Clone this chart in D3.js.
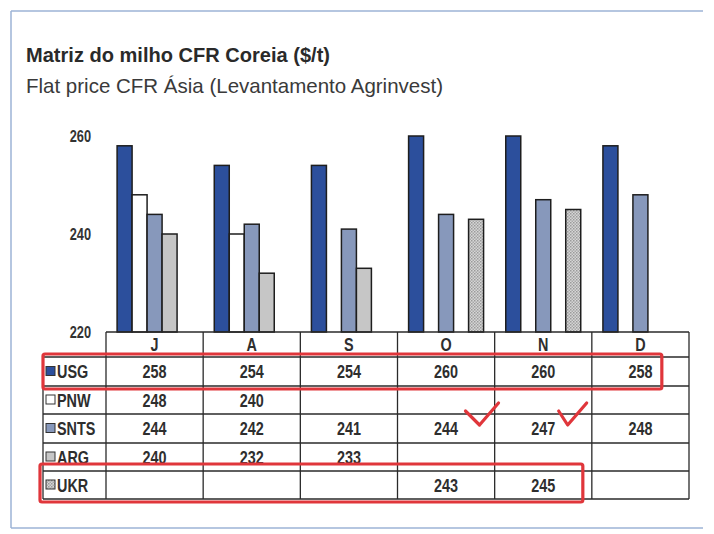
<!DOCTYPE html>
<html>
<head>
<meta charset="utf-8">
<script src="https://d3js.org/d3.v7.min.js"></script>
<style>
  body { margin: 0; background: #fff; }
  svg text { font-family: "Liberation Sans Narrow", "Arial Narrow", "Liberation Sans", Arial, sans-serif; }
  .yaxis .domain { display: none; }
  .yaxis text { font-size: 16px; font-weight: bold; fill: #333; }
</style>
</head>
<body>
<svg id="chart" width="714" height="534"></svg>
<script>
// data
const months = ["J", "A", "S", "O", "N", "D"];
const series = ["USG", "PNW", "SNTS", "ARG", "UKR"];
const usg  = [258, 254, 254, 260, 260, 258];
const pnw  = [248, 240, null, null, null, null];
const snts = [244, 242, 241, 244, 247, 248];
const arg  = [240, 232, 233, null, null, null];
const ukr  = [null, null, null, 243, 245, null];
const yTicks = [220, 240, 260];

const values = { USG: usg, PNW: pnw, SNTS: snts, ARG: arg, UKR: ukr };

const svg = d3.select("#chart");

// pattern for UKR
const defs = svg.append("defs");
const pat = defs.append("pattern").attr("id", "dots")
    .attr("width", 3).attr("height", 3).attr("patternUnits", "userSpaceOnUse");
pat.append("rect").attr("width", 3).attr("height", 3).attr("fill", "#d6d6d6");
pat.append("rect").attr("width", 1.5).attr("height", 1.5).attr("fill", "#9a9a9a");
pat.append("rect").attr("x", 1.5).attr("y", 1.5).attr("width", 1.5).attr("height", 1.5).attr("fill", "#a8a8a8");

const fills = { USG: "#2c4f9c", PNW: "#ffffff", SNTS: "#8798bb", ARG: "#c6c6c6", UKR: "url(#dots)" };

// narrow text: no condensed font installed, so squeeze horizontally
const narrow = 0.8;
function label(g, xx, yy, str, anchor) {
    return g.append("text")
        .attr("transform", `translate(${xx},${yy}) scale(${narrow},1)`)
        .attr("text-anchor", anchor || "start")
        .text(str);
}

// outer frame
const frame = svg.append("g").attr("stroke", "#9db3d6").attr("stroke-width", 1.5);
frame.append("line").attr("x1", 11).attr("y1", 11).attr("x2", 703).attr("y2", 11);
frame.append("line").attr("x1", 11).attr("y1", 11).attr("x2", 11).attr("y2", 528);
frame.append("line").attr("x1", 11).attr("y1", 528).attr("x2", 703).attr("y2", 528);

// titles
svg.append("text").attr("x", 26).attr("y", 62)
    .attr("font-size", 21).attr("font-weight", "bold").attr("fill", "#2a2a2a")
    .attr("textLength", 304).attr("lengthAdjust", "spacingAndGlyphs")
    .text("Matriz do milho CFR Coreia ($/t)");
svg.append("text").attr("x", 26).attr("y", 93)
    .attr("font-size", 21).attr("fill", "#3a3a3a")
    .attr("textLength", 417).attr("lengthAdjust", "spacingAndGlyphs")
    .text("Flat price CFR Ásia (Levantamento Agrinvest)");

// scales
const plotLeft = 106, plotRight = 689, plotTop = 136, plotBottom = 332;
const x = d3.scaleBand().domain(months).range([plotLeft, plotRight]);
const xs = d3.scaleBand().domain(series).range([0, x.bandwidth()]).paddingOuter(0.74);
const y = d3.scaleLinear().domain([220, 260]).range([plotBottom, plotTop]);

// y axis
svg.append("g").attr("class", "yaxis")
    .attr("transform", `translate(${plotLeft - 15},0)`)
    .call(d3.axisLeft(y).tickValues(yTicks).tickSize(0).tickPadding(0))
    .selectAll("text").attr("transform", `scale(${narrow},1)`);

// bars
const bars = [];
series.forEach(s => months.forEach((m, i) => {
    if (values[s][i] != null) bars.push({ s, m, v: values[s][i] });
}));
svg.append("g").selectAll("rect").data(bars).join("rect")
    .attr("x", d => x(d.m) + xs(d.s))
    .attr("width", xs.bandwidth())
    .attr("y", d => y(d.v))
    .attr("height", d => plotBottom - y(d.v))
    .attr("fill", d => fills[d.s])
    .attr("stroke", "#1e1e1e").attr("stroke-width", 1.5);

// table
const rowEdges = [332, 357, 386, 414, 443, 471, 499];
const legendLeft = 43;
const table = svg.append("g");
const grid = table.append("g").attr("stroke", "#2a2a2a").attr("stroke-width", 1.3);
grid.append("line").attr("x1", plotLeft).attr("x2", plotRight).attr("y1", rowEdges[0]).attr("y2", rowEdges[0]);
rowEdges.slice(1).forEach(r => grid.append("line")
    .attr("x1", legendLeft).attr("x2", plotRight).attr("y1", r).attr("y2", r));
grid.append("line").attr("x1", legendLeft).attr("x2", legendLeft).attr("y1", rowEdges[1]).attr("y2", rowEdges[6]);
months.concat(["end"]).forEach((m, i) => {
    const xx = plotLeft + i * x.bandwidth();
    grid.append("line").attr("x1", xx).attr("x2", xx).attr("y1", rowEdges[0]).attr("y2", rowEdges[6]);
});

const txt = table.append("g").attr("font-size", 18).attr("font-weight", "bold").attr("fill", "#2e2e2e");
months.forEach(m => label(txt, x(m) + x.bandwidth() / 2, (rowEdges[0] + rowEdges[1]) / 2 + 6, m, "middle"));

series.forEach((s, j) => {
    const cy = (rowEdges[j + 1] + rowEdges[j + 2]) / 2;
    table.append("rect").attr("x", 46).attr("y", cy - 5).attr("width", 9).attr("height", 9)
        .attr("fill", fills[s]).attr("stroke", "#333").attr("stroke-width", 1);
    label(txt, 57, cy + 6.5, s);
    months.forEach((m, i) => {
        const v = values[s][i];
        if (v == null) return;
        label(txt, x(m) + x.bandwidth() / 2, cy + 6.5, v, "middle");
    });
});

// red annotations
const red = svg.append("g").attr("fill", "none").attr("stroke", "#e0363b")
    .attr("stroke-width", 3.2).attr("stroke-linejoin", "round").attr("stroke-linecap", "round");
red.append("rect").attr("x", legendLeft).attr("y", rowEdges[1] - 3)
    .attr("width", x("D") + 70 - legendLeft).attr("height", rowEdges[2] - rowEdges[1] + 6).attr("rx", 2);
red.append("rect").attr("x", legendLeft - 3).attr("y", rowEdges[5] - 7)
    .attr("width", x("N") + x.bandwidth() - 9 - (legendLeft - 3)).attr("height", rowEdges[6] - rowEdges[5] + 10).attr("rx", 2);
const snY = rowEdges[3];
[["O", 68, 82, 101], ["N", 64, 73, 92]].forEach(([m, a, b, c]) => {
    red.append("path").attr("d", d3.line()([
        [x(m) + a, snY - 3], [x(m) + b, snY + 11], [x(m) + c, snY - 11]
    ]));
});
</script>
</body>
</html>
